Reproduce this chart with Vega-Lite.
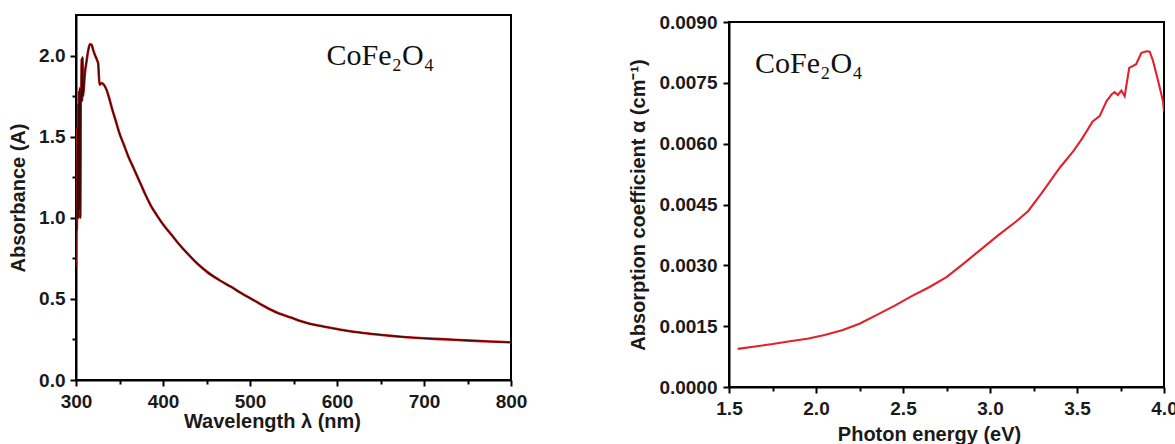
{
  "$schema": "https://vega.github.io/schema/vega-lite/v6.json",
  "padding": {"left": 7, "top": 12, "right": 0, "bottom": 0},
  "spacing": 99,
  "config": {
    "view": {"stroke": "black", "strokeWidth": 2},
    "axis": {
      "grid": false,
      "domainColor": "black",
      "domainWidth": 2,
      "tickColor": "black",
      "tickWidth": 2,
      "labelFont": "Liberation Sans",
      "labelFontWeight": "bold",
      "labelFontSize": 19,
      "labelColor": "#1a1a1a",
      "labelOverlap": false,
      "labelFlush": false,
      "titleFont": "Liberation Sans",
      "titleFontWeight": "bold",
      "titleFontSize": 20,
      "titleColor": "#1a1a1a"
    }
  },
  "datasets": {
    "abs": [
      {"wl": 300, "A": 0.70}, {"wl": 300.5, "A": 1.00}, {"wl": 301, "A": 0.92}, {"wl": 301.5, "A": 1.55},
      {"wl": 302, "A": 1.00}, {"wl": 302.5, "A": 1.70}, {"wl": 303, "A": 1.00}, {"wl": 303.5, "A": 1.78},
      {"wl": 304, "A": 1.05}, {"wl": 304.5, "A": 1.80}, {"wl": 305, "A": 1.00}, {"wl": 305.5, "A": 1.76},
      {"wl": 306, "A": 1.72}, {"wl": 306.5, "A": 1.98}, {"wl": 307, "A": 1.72}, {"wl": 307.5, "A": 1.99},
      {"wl": 308, "A": 1.75}, {"wl": 309, "A": 1.80}, {"wl": 310, "A": 1.88}, {"wl": 312, "A": 1.96},
      {"wl": 314, "A": 2.03}, {"wl": 316, "A": 2.07}, {"wl": 318, "A": 2.065}, {"wl": 320, "A": 2.03},
      {"wl": 322, "A": 2.00}, {"wl": 324, "A": 1.975}, {"wl": 325.5, "A": 1.95}, {"wl": 327, "A": 1.82},
      {"wl": 329, "A": 1.83}, {"wl": 332, "A": 1.82}, {"wl": 335, "A": 1.79}, {"wl": 338, "A": 1.74},
      {"wl": 341, "A": 1.68}, {"wl": 345, "A": 1.61}, {"wl": 350, "A": 1.52}, {"wl": 355, "A": 1.45},
      {"wl": 360, "A": 1.38}, {"wl": 365, "A": 1.32}, {"wl": 370, "A": 1.26}, {"wl": 375, "A": 1.20},
      {"wl": 380, "A": 1.14}, {"wl": 386, "A": 1.075}, {"wl": 393, "A": 1.015}, {"wl": 400, "A": 0.96},
      {"wl": 409, "A": 0.90}, {"wl": 418, "A": 0.84}, {"wl": 428, "A": 0.78}, {"wl": 440, "A": 0.715},
      {"wl": 451, "A": 0.665}, {"wl": 465, "A": 0.615}, {"wl": 478, "A": 0.575}, {"wl": 490, "A": 0.535},
      {"wl": 505, "A": 0.49}, {"wl": 518, "A": 0.45}, {"wl": 532, "A": 0.413}, {"wl": 547, "A": 0.385},
      {"wl": 559, "A": 0.362}, {"wl": 570, "A": 0.345}, {"wl": 584, "A": 0.33}, {"wl": 597, "A": 0.317},
      {"wl": 610, "A": 0.305}, {"wl": 624, "A": 0.294}, {"wl": 640, "A": 0.284}, {"wl": 662, "A": 0.272},
      {"wl": 680, "A": 0.264}, {"wl": 700, "A": 0.257}, {"wl": 720, "A": 0.252}, {"wl": 739, "A": 0.247},
      {"wl": 760, "A": 0.241}, {"wl": 777, "A": 0.237}, {"wl": 800, "A": 0.232}
    ],
    "alpha": [
      {"E": 1.55, "alpha": 0.00094}, {"E": 1.65, "alpha": 0.00100}, {"E": 1.75, "alpha": 0.00106},
      {"E": 1.85, "alpha": 0.00113}, {"E": 1.95, "alpha": 0.00119}, {"E": 2.05, "alpha": 0.00128},
      {"E": 2.15, "alpha": 0.00140}, {"E": 2.25, "alpha": 0.00156}, {"E": 2.35, "alpha": 0.00178},
      {"E": 2.45, "alpha": 0.00200}, {"E": 2.55, "alpha": 0.00224}, {"E": 2.65, "alpha": 0.00246},
      {"E": 2.75, "alpha": 0.00271}, {"E": 2.85, "alpha": 0.00305}, {"E": 2.95, "alpha": 0.00340},
      {"E": 3.05, "alpha": 0.00375}, {"E": 3.15, "alpha": 0.00408}, {"E": 3.22, "alpha": 0.00434},
      {"E": 3.30, "alpha": 0.00480}, {"E": 3.40, "alpha": 0.00540}, {"E": 3.48, "alpha": 0.00582},
      {"E": 3.53, "alpha": 0.00613}, {"E": 3.59, "alpha": 0.00655}, {"E": 3.63, "alpha": 0.00668},
      {"E": 3.67, "alpha": 0.00705}, {"E": 3.70, "alpha": 0.00722}, {"E": 3.716, "alpha": 0.00727},
      {"E": 3.735, "alpha": 0.00720}, {"E": 3.755, "alpha": 0.00731}, {"E": 3.774, "alpha": 0.00717},
      {"E": 3.80, "alpha": 0.00787}, {"E": 3.84, "alpha": 0.00796}, {"E": 3.87, "alpha": 0.00824},
      {"E": 3.90, "alpha": 0.00828}, {"E": 3.918, "alpha": 0.00827}, {"E": 3.937, "alpha": 0.00804},
      {"E": 3.966, "alpha": 0.00755}, {"E": 3.994, "alpha": 0.00705}, {"E": 4.0, "alpha": 0.0068}
    ]
  },
  "hconcat": [
    {
      "width": 435,
      "height": 365,
      "layer": [
        {
          "data": {"name": "abs"},
          "mark": {"type": "line", "color": "#cc1a1a", "strokeWidth": 2.6, "clip": true, "interpolate": "monotone"},
          "encoding": {
            "x": {
              "field": "wl", "type": "quantitative",
              "scale": {"domain": [300, 800], "nice": false, "zero": false},
              "axis": {
                "title": "Wavelength λ (nm)",
                "values": [300, 350, 400, 450, 500, 550, 600, 650, 700, 750, 800],
                "labelExpr": "datum.value % 100 === 0 ? datum.label : ''",
                "tickSize": {"condition": {"test": "datum.value % 100 !== 0", "value": 4}, "value": 6},
                "labelPadding": 6,
                "titlePadding": 0,
                "titleX": 196
              }
            },
            "y": {
              "field": "A", "type": "quantitative",
              "scale": {"domain": [0, 2.25], "nice": false},
              "axis": {
                "title": "Absorbance (A)",
                "values": [0, 0.25, 0.5, 0.75, 1, 1.25, 1.5, 1.75, 2],
                "labelExpr": "datum.value % 0.5 === 0 ? format(datum.value, '.1f') : ''",
                "tickSize": {"condition": {"test": "datum.value % 0.5 !== 0", "value": 4}, "value": 6},
                "labelPadding": 5,
                "titlePadding": 10
              }
            }
          }
        },
        {
          "data": {"name": "abs"},
          "mark": {"type": "line", "color": "#3d0a0a", "strokeWidth": 1.3, "clip": true, "interpolate": "monotone"},
          "encoding": {
            "x": {"field": "wl", "type": "quantitative"},
            "y": {"field": "A", "type": "quantitative"}
          }
        },
        {
          "data": {"values": [{"wl": 588, "A": 2.0, "label": "CoFe₂O₄"}]},
          "mark": {"type": "text", "font": "Liberation Serif", "fontSize": 30, "align": "left", "baseline": "middle", "color": "#111111"},
          "encoding": {
            "x": {"field": "wl", "type": "quantitative"},
            "y": {"field": "A", "type": "quantitative"},
            "text": {"field": "label"}
          }
        }
      ]
    },
    {
      "spacing": -4,
      "vconcat": [
        {
          "width": 435,
          "height": 1,
          "view": {"stroke": null},
          "data": {"values": []},
          "mark": "point"
        },
        {
          "width": 435,
          "height": 365,
          "layer": [
            {
              "data": {"name": "alpha"},
              "mark": {"type": "line", "color": "#e3202b", "strokeWidth": 2.1, "clip": true},
              "encoding": {
                "x": {
                  "field": "E", "type": "quantitative",
                  "scale": {"domain": [1.5, 4.0], "nice": false, "zero": false},
                  "axis": {
                    "title": "Photon energy (eV)",
                    "values": [1.5, 1.75, 2, 2.25, 2.5, 2.75, 3, 3.25, 3.5, 3.75, 4],
                    "labelExpr": "round(datum.value * 4) % 2 === 0 ? format(datum.value, '.1f') : ''",
                    "tickSize": {"condition": {"test": "round(datum.value * 4) % 2 === 1", "value": 4}, "value": 6},
                    "labelPadding": 6,
                    "titlePadding": 6,
                    "titleX": 200
                  }
                },
                "y": {
                  "field": "alpha", "type": "quantitative",
                  "scale": {"domain": [0, 0.009], "nice": false},
                  "axis": {
                    "title": "Absorption coefficient α (cm⁻¹)",
                    "values": [0, 0.00075, 0.0015, 0.00225, 0.003, 0.00375, 0.0045, 0.00525, 0.006, 0.00675, 0.0075, 0.00825, 0.009],
                    "labelExpr": "round(datum.value / 0.00075) % 2 === 0 ? format(datum.value, '.4f') : ''",
                    "tickSize": {"condition": {"test": "round(datum.value / 0.00075) % 2 === 1", "value": 4}, "value": 6},
                    "labelPadding": 6,
                    "titlePadding": 10
                  }
                }
              }
            },
            {
              "data": {"values": [{"E": 1.65, "alpha": 0.00796, "label": "CoFe₂O₄"}]},
              "mark": {"type": "text", "font": "Liberation Serif", "fontSize": 30, "align": "left", "baseline": "middle", "color": "#111111"},
              "encoding": {
                "x": {"field": "E", "type": "quantitative"},
                "y": {"field": "alpha", "type": "quantitative"},
                "text": {"field": "label"}
              }
            }
          ]
        }
      ]
    }
  ]
}
